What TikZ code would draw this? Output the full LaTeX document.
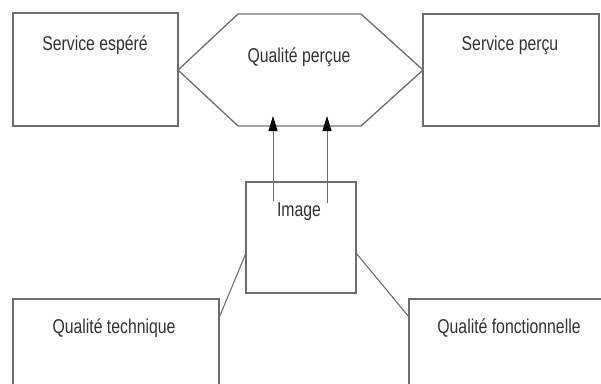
\documentclass[tikz,border=0pt]{standalone}
\usepackage{fontspec}
\setmainfont{Liberation Sans}[FakeStretch=0.79]
\usetikzlibrary{arrows.meta}
\definecolor{linegray}{HTML}{6E6E6E}
\definecolor{textgray}{HTML}{333333}
\begin{document}
\begin{tikzpicture}[x=1pt,y=-1pt,
  frame/.style={draw=linegray,line width=1.3pt},
  caption/.style={text=textgray,font=\fontsize{20}{23}\selectfont,inner sep=0pt,anchor=base},
  link/.style={draw=linegray,line width=1.1pt},
  up/.style={draw=linegray,line width=1pt,-{Triangle[length=15pt,width=9pt,color=black]}}]
  \clip (0,0) rectangle (601,383);
  \useasboundingbox (0,0) rectangle (601,383);

  % top row: expected service, perceived quality, perceived service
  \draw[frame] (13,13) rectangle (178,126);
  \node[caption] (esp) at (95,50) {Service espéré};

  \draw[frame] (178,70) -- (238,14) -- (361,14) -- (423,70) -- (361,126) -- (238,126) -- cycle;
  \node[caption] (qp) at (299,62) {Qualité perçue};

  \draw[frame] (423,14) rectangle (599,126);
  \node[caption] (perc) at (510,50) {Service perçu};

  % image box with its two arrows
  \draw[frame] (246,182) rectangle (356,293);
  \node[caption] (img) at (299,216) {Image};
  \coordinate (a1) at (273,201);
  \coordinate (a1t) at (273,116);
  \coordinate (a2) at (327,203);
  \coordinate (a2t) at (327,116);
  \draw[up] (a1) -- (a1t);
  \draw[up] (a2) -- (a2t);

  % bottom row: technical and functional quality
  \draw[frame] (13,400) -- (13,299) -- (219,299) -- (219,400);
  \node[caption] (tech) at (114,333) {Qualité technique};
  \draw[frame] (409,400) -- (409,299) -- (610,299);
  \node[caption] (fonc) at (509,333) {Qualité fonctionnelle};

  \coordinate (t1) at (219,318);
  \coordinate (t2) at (246,253);
  \coordinate (f1) at (356,253);
  \coordinate (f2) at (409,317);
  \draw[link] (t1) -- (t2);
  \draw[link] (f1) -- (f2);
\end{tikzpicture}
\end{document}
